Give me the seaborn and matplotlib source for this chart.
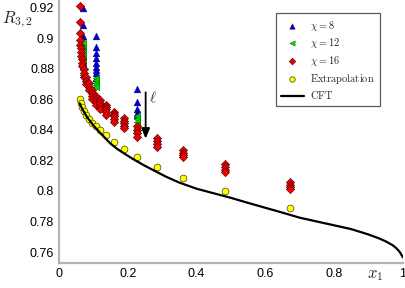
import numpy as np
import pandas as pd
import matplotlib
matplotlib.use('Agg')
import matplotlib.pyplot as plt
import seaborn as sns

# column positions (x1) and R_{3,2} values
col_x = [0.0615, 0.064, 0.0675, 0.0725, 0.079, 0.087, 0.0965, 0.1064, 0.1188,
         0.1362, 0.1586, 0.1884, 0.2261, 0.284, 0.362, 0.483, 0.672]
chi16_cols = [
    [0.9215, 0.9105, 0.9035, 0.899, 0.896],
    [0.8935, 0.891, 0.8885],
    [0.8865, 0.884, 0.882],
    [0.880, 0.8775, 0.875],
    [0.8745, 0.872, 0.870],
    [0.8705, 0.868, 0.866],
    [0.8665, 0.8645, 0.8625, 0.8605],
    [0.8625, 0.8605, 0.8585, 0.8565],
    [0.8595, 0.8575, 0.8555, 0.8535],
    [0.8565, 0.855, 0.8535, 0.8515, 0.850],
    [0.852, 0.8505, 0.849, 0.847, 0.8455],
    [0.8477, 0.846, 0.8444, 0.8425, 0.841],
    [0.8425, 0.840, 0.8378, 0.8355],
    [0.8345, 0.8325, 0.8305, 0.829],
    [0.827, 0.825, 0.8235, 0.822],
    [0.818, 0.816, 0.814, 0.8125],
    [0.806, 0.804, 0.8025, 0.801],
]

chi8_colx = [0.0695, 0.1064, 0.2261]
chi8_cols = [
    [0.9198, 0.9089, 0.9018],
    [0.9016, 0.8946, 0.8903, 0.887, 0.8837, 0.8815, 0.8793, 0.8772, 0.8739],
    [0.8667, 0.8586, 0.8536, 0.8513, 0.850],
]

chi12_colx = [0.0705, 0.1064, 0.2261]
chi12_cols = [
    [0.897, 0.894, 0.891, 0.888, 0.885, 0.882, 0.879, 0.876],
    [0.874, 0.8725, 0.871, 0.8695, 0.868],
    [0.849, 0.847, 0.845, 0.843, 0.841],
]

extrap_x = [0.0617, 0.0629, 0.0675, 0.0725, 0.0791, 0.0870, 0.0965, 0.1064, 0.1188,
            0.1362, 0.1586, 0.1884, 0.2261, 0.284, 0.362, 0.483, 0.672]
extrap_y = [0.8601, 0.8575, 0.8549, 0.8523, 0.8498, 0.8474, 0.8448, 0.8426, 0.8400,
            0.8367, 0.8323, 0.8277, 0.8225, 0.816, 0.8087, 0.800, 0.7886]

cft_x = [0.06, 0.065, 0.07, 0.08, 0.09, 0.10, 0.11, 0.12, 0.135, 0.15, 0.17, 0.19,
         0.22, 0.25, 0.28, 0.31, 0.35, 0.40, 0.45, 0.50, 0.55, 0.60, 0.65, 0.70,
         0.75, 0.80, 0.85, 0.90, 0.93, 0.95, 0.97, 0.98, 0.99, 0.995, 1.0]
cft_y = [0.8575, 0.855, 0.853, 0.849, 0.846, 0.843, 0.8405, 0.838, 0.8345, 0.831,
         0.8275, 0.8245, 0.8203, 0.8165, 0.813, 0.8095, 0.8055, 0.8015, 0.7985,
         0.7955, 0.7922, 0.789, 0.7858, 0.7825, 0.780, 0.7775, 0.775, 0.7715,
         0.769, 0.767, 0.7645, 0.7627, 0.7603, 0.7585, 0.7565]


def expand(xs, cols):
    px, py = [], []
    for x, ys in zip(xs, cols):
        px += [x] * len(ys)
        py += ys
    return pd.DataFrame({'x': px, 'R': py})


d8 = expand(chi8_colx, chi8_cols)
d12 = expand(chi12_colx, chi12_cols)
d16 = expand(col_x, chi16_cols)
dex = pd.DataFrame({'x': extrap_x, 'R': extrap_y})
dcft = pd.DataFrame({'x': cft_x, 'R': cft_y})

sns.set_style('white')
plt.rcParams['font.family'] = ['Liberation Sans', 'DejaVu Sans']
plt.rcParams['mathtext.fontset'] = 'cm'

fig = plt.figure(figsize=(4.06, 2.88), dpi=100)
ax = fig.add_axes([0.1453, 0.0868, 0.847, 0.9132])

sns.scatterplot(data=d8, x='x', y='R', ax=ax, marker='^', s=24, color='#0000e0',
                edgecolor='#000060', linewidth=0.3, label=r'$\chi = 8$', zorder=3)
sns.scatterplot(data=d12, x='x', y='R', ax=ax, marker='<', s=22, color='#00dd00',
                edgecolor='#005000', linewidth=0.3, label=r'$\chi = 12$', zorder=3)
sns.scatterplot(data=d16, x='x', y='R', ax=ax, marker='D', s=18, color='#ee0000',
                edgecolor='#400000', linewidth=0.4, label=r'$\chi = 16$', zorder=4)
sns.scatterplot(data=dex, x='x', y='R', ax=ax, marker='o', s=24, color='#ffff00',
                edgecolor='#404000', linewidth=0.5, label=r'$\mathrm{Extrapolation}$', zorder=4)
sns.lineplot(data=dcft, x='x', y='R', ax=ax, sort=False, color='black', lw=1.6,
             label=r'$\mathrm{CFT}$', zorder=5)

ax.set_xlim(0, 1)
ax.set_ylim(0.7528, 0.9252)
ax.set_xticks([0, 0.2, 0.4, 0.6, 0.8, 1])
ax.set_yticks([0.76, 0.78, 0.8, 0.82, 0.84, 0.86, 0.88, 0.9, 0.92])
ax.xaxis.set_major_formatter(matplotlib.ticker.FormatStrFormatter('%g'))
ax.yaxis.set_major_formatter(matplotlib.ticker.FormatStrFormatter('%g'))
ax.tick_params(direction='in', length=3, width=0.8, color='#a0a0a0', labelsize=9,
               labelcolor='black', pad=3.5)
for s in ['top', 'right']:
    ax.spines[s].set_visible(False)
for s in ['left', 'bottom']:
    ax.spines[s].set_color('#b4b4b4')
    ax.spines[s].set_linewidth(1.6)
ax.set_xlabel('')
ax.set_ylabel('')

fig.text(0.005, 0.93, r'$R_{3,2}$', fontsize=12, ha='left', va='center')
fig.text(0.925, 0.045, r'$x_1$', fontsize=12, ha='center', va='center')

# arrow indicating increasing l
ax.annotate('', xy=(0.252, 0.8325), xytext=(0.252, 0.8665),
            arrowprops=dict(arrowstyle='-|>,head_width=0.25,head_length=0.6',
                            color='black', lw=1.3))
ax.text(0.262, 0.861, r'$\ell$', fontsize=11, ha='left', va='center', color='#333333')

leg = ax.legend(loc='upper left', bbox_to_anchor=(0.615, 0.969), frameon=True,
                fancybox=False, edgecolor='#333333', fontsize=7.5,
                handlelength=2.2, handletextpad=0.6, borderpad=0.5,
                labelspacing=0.35, markerscale=0.8)
leg.get_frame().set_linewidth(0.9)

fig.savefig('out.png', dpi=100)
